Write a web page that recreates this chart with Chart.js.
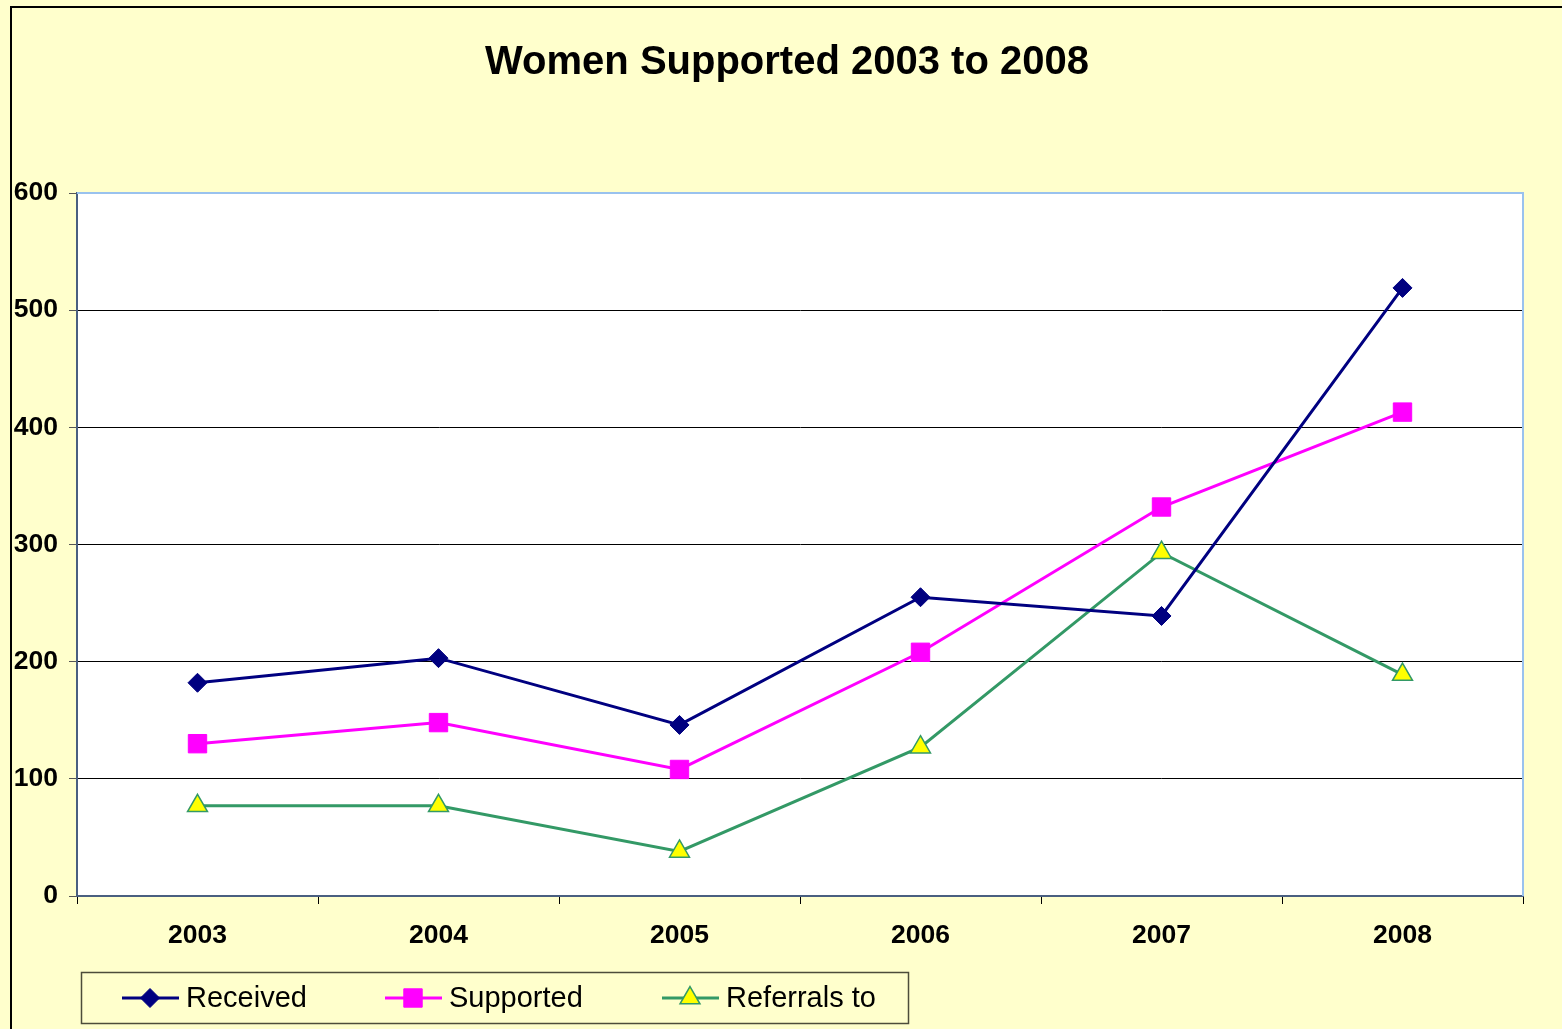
<!DOCTYPE html>
<html>
<head>
<meta charset="utf-8">
<script src="https://cdn.jsdelivr.net/npm/chart.js@4"></script>
<style>
  html, body { margin: 0; padding: 0; background: #FFFFCC; }
  #wrap { width: 1562px; height: 1029px; position: relative; }
</style>
</head>
<body>
<div id="wrap"><canvas id="c" width="1562" height="1029"></canvas></div>
<script>
const titleText = 'Women Supported 2003 to 2008';
const categories = ['2003', '2004', '2005', '2006', '2007', '2008'];
const received = [182, 203, 146, 255, 239, 519];
const supported = [130, 148, 108, 208, 332, 413];
const referrals = [77, 77, 38, 127, 293, 189];
const seriesNames = ['Received', 'Supported', 'Referrals to'];
const yTicks = [0, 100, 200, 300, 400, 500, 600];

const FONT = '"Liberation Sans", Arial, sans-serif';

function drawMarker(ctx, style, x, y, r) {
  if (style === 'rectRot') {
    ctx.moveTo(x, y - r); ctx.lineTo(x + r, y); ctx.lineTo(x, y + r); ctx.lineTo(x - r, y); ctx.closePath();
  } else if (style === 'rect') {
    const s = r * Math.SQRT1_2;
    ctx.rect(x - s, y - s, 2 * s, 2 * s);
  } else if (style === 'triangle') {
    ctx.moveTo(x, y - r);
    ctx.lineTo(x + r * 0.866, y + r * 0.5);
    ctx.lineTo(x - r * 0.866, y + r * 0.5);
    ctx.closePath();
  }
}

const decorPlugin = {
  id: 'decor',
  beforeDraw(chart) {
    const ctx = chart.ctx;
    const a = chart.chartArea;
    ctx.save();
    ctx.fillStyle = '#FFFFCC';
    ctx.fillRect(0, 0, chart.width, chart.height);
    ctx.strokeStyle = '#000';
    ctx.lineWidth = 2;
    ctx.beginPath();
    ctx.moveTo(11, chart.height + 5);
    ctx.lineTo(11, 7);
    ctx.lineTo(chart.width + 5, 7);
    ctx.stroke();
    ctx.fillStyle = '#FFFFFF';
    ctx.fillRect(a.left, a.top, a.right - a.left, a.bottom - a.top);
    ctx.restore();
  },
  afterDraw(chart) {
    const ctx = chart.ctx;
    const a = chart.chartArea;
    ctx.save();
    ctx.strokeStyle = '#99C2EE';
    ctx.lineWidth = 2;
    ctx.beginPath();
    ctx.moveTo(a.left, a.top);
    ctx.lineTo(a.right, a.top);
    ctx.lineTo(a.right, a.bottom);
    ctx.stroke();
    // title
    ctx.fillStyle = '#000';
    ctx.font = 'bold 40px ' + FONT;
    ctx.textAlign = 'center';
    ctx.textBaseline = 'middle';
    ctx.fillText(titleText, 787, 63);
    // legend
    ctx.strokeStyle = '#4d4d3a';
    ctx.lineWidth = 1.5;
    ctx.fillStyle = '#FFFFCC';
    ctx.fillRect(81, 972, 828, 52);
    ctx.strokeRect(81.5, 972.5, 827, 51);
    const starts = [122, 385, 662];
    chart.data.datasets.forEach((ds, i) => {
      const x0 = starts[i];
      const y = 998;
      ctx.strokeStyle = ds.borderColor;
      ctx.lineWidth = 3;
      ctx.beginPath();
      ctx.moveTo(x0, y);
      ctx.lineTo(x0 + 57, y);
      ctx.stroke();
      ctx.fillStyle = ds.pointBackgroundColor;
      ctx.strokeStyle = ds.pointBorderColor;
      ctx.lineWidth = ds.pointBorderWidth;
      ctx.beginPath();
      drawMarker(ctx, ds.pointStyle, x0 + 28, y, ds.pointRadius);
      ctx.fill();
      ctx.stroke();
      ctx.fillStyle = '#000';
      ctx.font = '29px ' + FONT;
      ctx.textAlign = 'left';
      ctx.textBaseline = 'middle';
      ctx.fillText(ds.label, x0 + 64, y + 1);
    });
    ctx.restore();
  }
};

new Chart(document.getElementById('c'), {
  type: 'line',
  data: {
    labels: categories,
    datasets: [
      {
        label: seriesNames[0], data: received,
        borderColor: '#000080', backgroundColor: '#000080',
        pointStyle: 'rectRot', pointRadius: 9.5, pointBackgroundColor: '#000080',
        pointBorderColor: '#000080', pointBorderWidth: 1, borderWidth: 3, tension: 0
      },
      {
        label: seriesNames[1], data: supported,
        borderColor: '#FF00FF', backgroundColor: '#FF00FF',
        pointStyle: 'rect', pointRadius: 13, pointBackgroundColor: '#FF00FF',
        pointBorderColor: '#FF00FF', pointBorderWidth: 1, borderWidth: 3, tension: 0
      },
      {
        label: seriesNames[2], data: referrals,
        borderColor: '#339966', backgroundColor: '#FFFF00',
        pointStyle: 'triangle', pointRadius: 11.5, pointBackgroundColor: '#FFFF00',
        pointBorderColor: '#339966', pointBorderWidth: 1.5, borderWidth: 3, tension: 0
      }
    ]
  },
  options: {
    responsive: false,
    animation: false,
    events: [],
    layout: { padding: { top: 193, right: 39, left: 0, bottom: 0 } },
    plugins: {
      legend: { display: false },
      title: { display: false },
      tooltip: { enabled: false }
    },
    scales: {
      x: {
        offset: true,
        grid: { offset: true, drawOnChartArea: false, drawTicks: true, tickLength: 8, color: '#000', lineWidth: 1 },
        border: { display: true, color: '#4A5F80', width: 2 },
        ticks: { color: '#000', font: { family: FONT, size: 26.5, weight: 'bold' }, padding: 16, maxRotation: 0 },
        afterFit(scale) { scale.height = 133; }
      },
      y: {
        min: 0, max: 600,
        afterBuildTicks(scale) { scale.ticks = yTicks.map(v => ({ value: v })); },
        grid: { color: (c) => c.tick && c.tick.value === 600 ? 'rgba(0,0,0,0)' : '#000', tickColor: '#555', tickLength: 8, lineWidth: 1 },
        border: { display: true, color: '#4A5F80', width: 2 },
        ticks: { color: '#000', font: { family: FONT, size: 26.5, weight: 'bold' }, padding: 11 },
        afterFit(scale) { scale.width = 77; }
      }
    }
  },
  plugins: [decorPlugin]
});
</script>
</body>
</html>
